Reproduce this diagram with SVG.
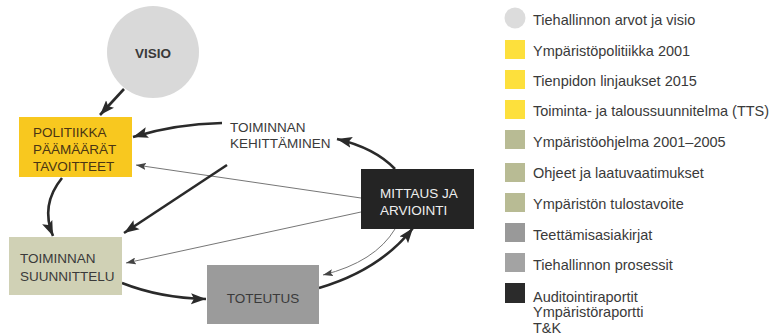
<svg xmlns="http://www.w3.org/2000/svg" width="783" height="336" viewBox="0 0 783 336">
<style>
text{font-family:"Liberation Sans",Arial,sans-serif;}
.n{font-size:13.5px;fill:#3a3a3a;}
.leg{font-size:14.5px;fill:#3a3a3a;font-variant-numeric:oldstyle-nums;}
.thick{fill:none;stroke:#2a2a2a;stroke-width:2.6;marker-end:url(#ah);}
.thin{fill:none;stroke:#666;stroke-width:0.9;marker-end:url(#aht);}
</style>
<defs>
<marker id="ah" markerUnits="userSpaceOnUse" markerWidth="15" markerHeight="12" refX="15" refY="6" orient="auto">
<path d="M0,0.5 L15,6 L0,11.5 L3,6 z" fill="#2a2a2a"/>
</marker>
<marker id="aht" markerUnits="userSpaceOnUse" markerWidth="10" markerHeight="7" refX="10" refY="3.5" orient="auto">
<path d="M0,0 L10,3.5 L0,7 L2,3.5 z" fill="#444"/>
</marker>
</defs>
<rect width="783" height="336" fill="#fff"/>

<g id="connectors">
<path class="thick" d="M124,89 L100,115"/>
<path class="thick" d="M222,123 Q175,124 133,137"/>
<path class="thick" d="M395,169 Q375,148 337,139"/>
<path class="thin" d="M361,198 L136,165"/>
<path class="thick" d="M227,165 L124,233"/>
<path class="thick" d="M62,178 Q40,205 53,236"/>
<path class="thin" d="M361,212 L126,263"/>
<path class="thick" d="M122,283 Q160,298 206,299"/>
<path class="thick" d="M319,288 Q380,270 413,228"/>
<path class="thin" d="M395,229 Q375,262 323,275"/>
</g>

<g id="visio">
<circle cx="153" cy="52" r="46" fill="#d9d9d9"/>
<text class="n" x="153" y="58" text-anchor="middle" font-weight="bold" fill="#333">VISIO</text>
</g>

<g id="politiikka">
<rect x="19" y="117" width="113" height="60" fill="#f8c81f"/>
<text class="n" style="fill:#4a3514"><tspan x="33" y="137">POLITIIKKA</tspan><tspan x="33" y="154">PÄÄMÄÄRÄT</tspan><tspan x="33" y="171">TAVOITTEET</tspan></text>
</g>

<g id="kehittaminen">
<text class="n"><tspan x="230" y="132">TOIMINNAN</tspan><tspan x="230" y="148">KEHITTÄMINEN</tspan></text>
</g>

<g id="mittaus">
<rect x="361" y="169" width="113" height="60" fill="#242424"/>
<text class="n" style="fill:#eeeeee"><tspan x="380" y="198">MITTAUS JA</tspan><tspan x="380" y="215">ARVIOINTI</tspan></text>
</g>

<g id="suunnittelu">
<rect x="9" y="237" width="113" height="58" fill="#d0d1b5"/>
<text class="n"><tspan x="20" y="263">TOIMINNAN</tspan><tspan x="20" y="281">SUUNNITTELU</tspan></text>
</g>

<g id="toteutus">
<rect x="207" y="265" width="112" height="59" fill="#9b9b9b"/>
<text class="n" x="263" y="303" text-anchor="middle">TOTEUTUS</text>
</g>

<g id="legend">
<circle cx="515" cy="18" r="10.5" fill="#dcdcdc"/>
<text class="leg" x="533" y="25">Tiehallinnon arvot ja visio</text>
<rect x="505" y="40" width="20" height="19" fill="#fde03c"/>
<text class="leg" x="533" y="56">Ympäristöpolitiikka 2001</text>
<rect x="505" y="70" width="20" height="19" fill="#fde03c"/>
<text class="leg" x="533" y="86">Tienpidon linjaukset 2015</text>
<rect x="505" y="100" width="20" height="19" fill="#fde03c"/>
<text class="leg" x="533" y="116">Toiminta- ja taloussuunnitelma (TTS)</text>
<rect x="505" y="130" width="20" height="19" fill="#b8bb94"/>
<text class="leg" x="533" y="147">Ympäristöohjelma 2001–2005</text>
<rect x="505" y="163" width="20" height="19" fill="#b8bb94"/>
<text class="leg" x="533" y="178">Ohjeet ja laatuvaatimukset</text>
<rect x="505" y="193" width="20" height="19" fill="#b8bb94"/>
<text class="leg" x="533" y="209">Ympäristön tulostavoite</text>
<rect x="505" y="223" width="20" height="19" fill="#999999"/>
<text class="leg" x="533" y="240">Teettämisasiakirjat</text>
<rect x="505" y="253" width="20" height="19" fill="#a3a3a3"/>
<text class="leg" x="533" y="270">Tiehallinnon prosessit</text>
<rect x="505" y="283" width="20" height="20" fill="#2b2b2b"/>
<text class="leg"><tspan x="533" y="302">Auditointiraportit</tspan><tspan x="533" y="317">Ympäristöraportti</tspan><tspan x="533" y="333">T&amp;K</tspan></text>
</g>
</svg>
